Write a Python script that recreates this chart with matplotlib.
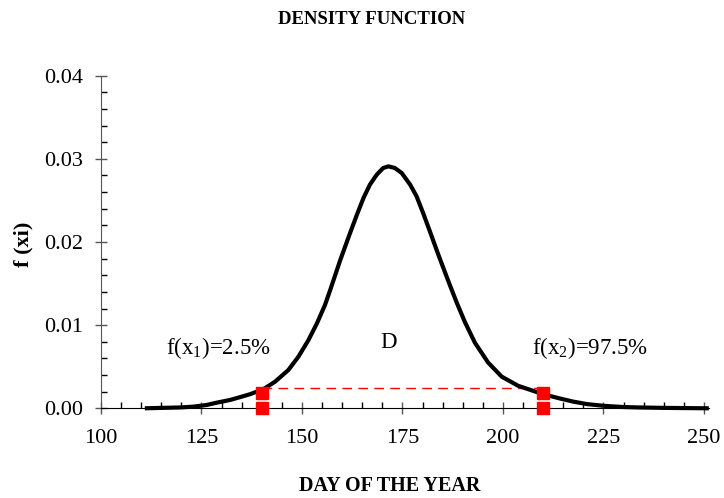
import numpy as np
import matplotlib
matplotlib.use("Agg")
import matplotlib.pyplot as plt
from matplotlib.ticker import MultipleLocator, FormatStrFormatter

plt.rcParams['font.family'] = ['Liberation Serif', 'DejaVu Serif']
plt.rcParams['mathtext.fontset'] = 'custom'
plt.rcParams['mathtext.rm'] = 'Liberation Serif'
plt.rcParams['mathtext.it'] = 'Liberation Serif'

# density curve
day = [110.9, 115.0, 119.7, 123.0, 126.3, 129.0, 132.1, 135.0, 137.1, 140.4,
       143.3, 146.6, 149.1, 151.6, 153.7, 155.7, 157.0, 159.5, 161.9, 163.6,
       165.3, 166.9, 168.6, 170.2, 171.5, 173.1, 174.8, 176.9, 178.5, 180.2,
       181.8, 183.9, 186.4, 188.5, 190.5, 193.0, 196.3, 199.7, 203.8, 207.5,
       210.0, 214.0, 217.5, 221.0, 225.0, 230.0, 234.0, 240.0, 251.2]
dens = [0.00000, 0.00005, 0.00010, 0.00020, 0.00040, 0.00070, 0.00100, 0.00140, 0.00170, 0.00230,
        0.00320, 0.00460, 0.00620, 0.00820, 0.01020, 0.01240, 0.01420, 0.01780, 0.02100, 0.02320,
        0.02530, 0.02690, 0.02810, 0.02890, 0.02910, 0.02890, 0.02830, 0.02690, 0.02550, 0.02340,
        0.02130, 0.01850, 0.01530, 0.01270, 0.01040, 0.00790, 0.00550, 0.00380, 0.00270, 0.00210,
        0.00170, 0.00120, 0.00080, 0.00050, 0.00030, 0.00015, 0.00010, 0.00005, 0.00000]

# quantile markers
q_x = [140, 140, 210, 210]
q_y = [0.0019, 0.0, 0.0019, 0.0]
dash_x = [140, 210]
dash_y = [0.0024, 0.0024]

fig = plt.figure(figsize=(7.24, 4.98), dpi=100)
ax = fig.add_axes([101/724, 1-408.3/498, (709.2-101)/724, (408.3-75.7)/498])

ax.plot(dash_x, dash_y, color='red', lw=1, dashes=(7, 4.5), zorder=2)
ax.plot(day, dens, color='black', lw=3, zorder=3, clip_on=False,
        solid_capstyle='butt', solid_joinstyle='round')
ax.plot(q_x, q_y, 's', color='red', ms=9, zorder=4, clip_on=False)

ax.set_xlim(100, 251.3)
ax.set_ylim(0, 0.04)
ax.spines['top'].set_visible(False)
ax.spines['right'].set_visible(False)
ax.spines['left'].set_color('#555555')

ax.xaxis.set_major_locator(MultipleLocator(25))
ax.xaxis.set_minor_locator(MultipleLocator(5))
ax.yaxis.set_major_locator(MultipleLocator(0.01))
ax.yaxis.set_minor_locator(MultipleLocator(0.002))
ax.yaxis.set_major_formatter(FormatStrFormatter('%.2f'))

ax.tick_params(axis='both', which='major', direction='inout', length=8, width=1,
               labelsize=16, color='#555555')
ax.tick_params(axis='both', which='minor', direction='in', length=4.5, width=1)
ax.tick_params(axis='x', which='major', pad=11)
ax.tick_params(axis='y', which='major', pad=9)

ax.text(129.1, 0.0072, 'f(x$_1$)=2.5%', fontsize=16.5, ha='center', va='center')
ax.text(171.5, 0.0079, 'D', fontsize=16.5, ha='center', va='center')
ax.text(221.6, 0.0072, 'f(x$_2$)=97.5%', fontsize=16.5, ha='center', va='center')

fig.text(372/724, 1-19/498, 'DENSITY FUNCTION', fontsize=13.5, fontweight='bold',
         ha='center', va='center')
fig.text(390/724, 1-486/498, 'DAY OF THE YEAR', fontsize=14.5, fontweight='bold',
         ha='center', va='center')
fig.text(23/724, 1-244/498, 'f (xi)', fontsize=16, fontweight='bold',
         ha='center', va='center', rotation=90)

fig.savefig('out.png', dpi=100)
